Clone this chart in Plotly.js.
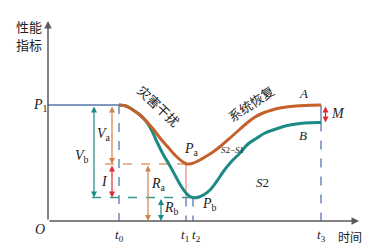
<!DOCTYPE html>
<html><head><meta charset="utf-8">
<script src="https://cdn.plot.ly/plotly-3.0.1.min.js"></script>
<style>body{margin:0;padding:0;background:#fff}#c{width:387px;height:250px}</style>
</head><body><div id="c"></div>
<script>
// Key time points and performance levels (abstract units)
const tKeys = {t0: 7.1, t1: 13.8, t2: 14.5, t3: 27.3};
const P1 = 11.6, Pa = 5.7, Pb = 2.35, Aend = 11.6, Bend = 9.85;
// Curve A (disturbance + recovery)
const tA = [7.1,7.8,8.5,9.2,9.9,10.6,11.2,11.9,12.5,13.0,13.5,13.9,14.4,14.9,15.7,16.5,17.4,18.2,19.1,19.9,20.7,21.5,22.4,23.2,24.2,25.2,26.2,27.3];
const pA = [11.6,11.5,11.1,10.6,9.9,9.1,8.3,7.5,6.8,6.3,5.9,5.7,5.75,5.95,6.4,6.9,7.6,8.3,9.1,9.8,10.4,10.8,11.1,11.3,11.45,11.53,11.58,11.6];
// Curve B
const tB = [7.1,7.8,8.5,9.2,9.8,10.4,10.9,11.5,12.2,12.8,13.3,13.8,14.2,14.6,15.1,15.7,16.2,16.9,17.5,18.3,19.2,20.0,20.9,21.7,22.5,23.4,24.2,25.2,26.2,27.3];
const pB = [11.6,11.5,11.1,10.6,10.0,9.0,7.9,6.7,5.5,4.4,3.5,2.8,2.45,2.32,2.4,2.7,3.1,4.0,4.9,5.9,6.8,7.7,8.3,8.8,9.1,9.4,9.6,9.75,9.83,9.85];
const tickLabels = ['<i>t</i><sub>0</sub>','<i>t</i><sub>1</sub>','<i>t</i><sub>2</sub>','<i>t</i><sub>3</sub>'];

const cOr='#c4612b', cTe='#1e8a84', cBl='#5677ad', cAx='#595959', cRed='#e22a36', cTan='#d0834f', cPink='#f08a8a';
const serif='Liberation Serif, Times New Roman, serif';
const cjk='Noto Sans CJK SC, sans-serif';

const traces=[
 {x:[0,tKeys.t0],y:[P1,P1],mode:'lines',line:{color:cBl,width:1.5},hoverinfo:'skip'},
 {x:tB,y:pB,mode:'lines',line:{color:cTe,width:3,shape:'spline',smoothing:1},hoverinfo:'skip'},
 {x:tA,y:pA,mode:'lines',line:{color:cOr,width:3,shape:'spline',smoothing:1},hoverinfo:'skip'}
];

function seg(x0,y0,x1,y1,color,dash,w){return {type:'line',x0,y0,x1,y1,xref:'x',yref:'y',line:{color,width:w||1.3,dash:dash||'solid'},layer:'below'};}
const shapes=[
 seg(tKeys.t0,P1,tKeys.t0,0,cBl,'dash'),
 seg(5.7,Pa,tKeys.t1,Pa,'#e49a72','dash'),
 seg(4.4,Pb,tKeys.t2,Pb,'#3a9791','dash'),
 seg(tKeys.t1,Pa,tKeys.t1,Pb,cPink,'solid'),
 seg(tKeys.t1,Pb,tKeys.t1,0,cBl,'dash'),
 seg(tKeys.t2,Pb,tKeys.t2,0,cBl,'dash'),
 seg(tKeys.t3,Aend,tKeys.t3,Bend,cBl,'solid'),
 seg(tKeys.t3,Bend,tKeys.t3,0,cBl,'dash')
];

function arr(x,y,ax,ay,color,both,w){return {x,y,ax,ay,xref:'x',yref:'y',axref:'x',ayref:'y',text:'',showarrow:true,arrowhead:2,startarrowhead:2,arrowside:both?'end+start':'end',arrowsize:1,startarrowsize:1,arrowwidth:w||1.2,arrowcolor:color,standoff:0,startstandoff:0};}
function lbl(x,y,text,size,fam,color,angle){return {x,y,xref:'x',yref:'y',text,showarrow:false,font:{size:size||13,family:fam||serif,color:color||'#222'},textangle:angle||0,xanchor:'center',yanchor:'middle'};}

const ann=[
 arr(31.1,0,0,0,cAx,false,1.5),
 arr(0,20.0,0,0,cAx,false,1.5),
 arr(4.6,Pb,4.6,P1,cTe,true),
 arr(6.4,Pa,6.4,P1,cTan,true),
 arr(6.4,Pb,6.4,Pa,cRed,true),
 arr(10.0,0,10.0,Pa,cTan,true),
 arr(11.3,0,11.3,Pb,cTe,true),
 arr(27.75,Bend,27.75,Aend,cRed,true),
 lbl(-1.9,19.5,'性能',13,cjk,'#222'),
 lbl(-1.9,17.7,'指标',13,cjk,'#222'),
 lbl(-0.8,11.6,'<i>P</i><sub>1</sub>',14),
 lbl(-0.8,-0.8,'<i>O</i>',14),
 lbl(tKeys.t0,-1.4,tickLabels[0],13),
 lbl(tKeys.t1-0.1,-1.4,tickLabels[1],13),
 lbl(tKeys.t2+0.3,-1.4,tickLabels[2],13),
 lbl(tKeys.t3,-1.4,tickLabels[3],13),
 lbl(30.2,-1.5,'时间',12,cjk,'#222'),
 lbl(5.6,8.7,'<i>V</i><sub>a</sub>',14),
 lbl(3.4,6.5,'<i>V</i><sub>b</sub>',14),
 lbl(5.6,4.0,'<i>I</i>',14),
 lbl(11.0,3.7,'<i>R</i><sub>a</sub>',14),
 lbl(12.3,1.3,'<i>R</i><sub>b</sub>',14),
 lbl(14.3,7.2,'<i>P</i><sub>a</sub>',14),
 lbl(16.1,1.7,'<i>P</i><sub>b</sub>',14),
 lbl(25.5,12.8,'<i>A</i>',13),
 lbl(25.5,8.6,'<i>B</i>',13),
 lbl(29.0,10.8,'<i>M</i>',14),
 lbl(18.4,7.1,'<i>S</i>2−<i>S</i>1',9),
 lbl(21.4,3.9,'<i>S</i>2',13),
 lbl(11.05,11.55,'灾害干扰',13,cjk,'#222',44),
 lbl(20.3,11.75,'系统恢复',13,cjk,'#222',-34)
];

const layout={width:387,height:250,margin:{l:0,r:0,t:0,b:0},paper_bgcolor:'#fff',plot_bgcolor:'#fff',showlegend:false,
 xaxis:{range:[-4.8,33.9],visible:false,fixedrange:true},
 yaxis:{range:[-2.9,22.1],visible:false,fixedrange:true},
 shapes,annotations:ann};
Plotly.newPlot('c',traces,layout,{displayModeBar:false,staticPlot:true});
</script></body></html>
